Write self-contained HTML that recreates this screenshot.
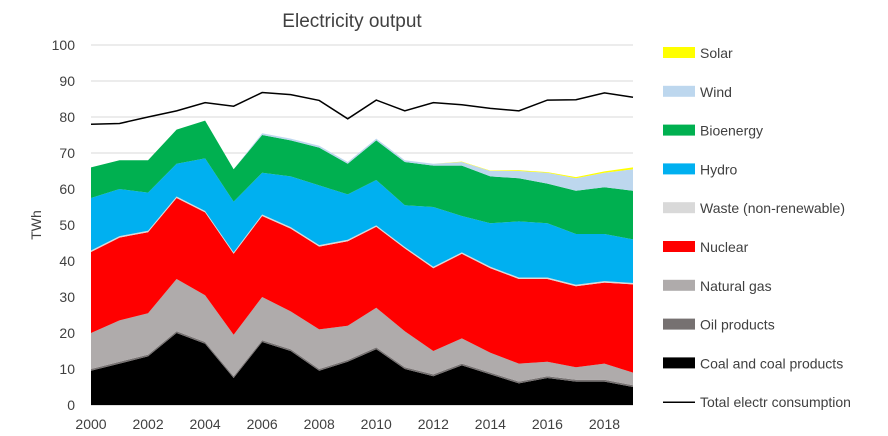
<!DOCTYPE html>
<html><head><meta charset="utf-8"><style>
body{margin:0;background:#fff;}
svg{display:block;font-family:"Liberation Sans",sans-serif;}
</style></head><body>
<svg id="chart" width="888" height="436"></svg>
<script>
const years=[2000,2001,2002,2003,2004,2005,2006,2007,2008,2009,2010,2011,2012,2013,2014,2015,2016,2017,2018,2019];
const coal=[9.5,11.5,13.5,20,17,7.5,17.5,15,9.5,12,15.5,10,8,11,8.5,6,7.5,6.5,6.5,5];
const oil=[0.5,0.5,0.5,0.5,0.5,0.5,0.5,0.5,0.5,0.5,0.5,0.5,0.5,0.5,0.5,0.5,0.5,0.5,0.5,0.5];
const gas=[10,11.5,11.5,14.5,13,11.5,12,10.5,11,9.5,11,10,6.5,7,5.5,5,4,3.5,4.5,3.5];
const nuclear=[22.5,23,22.5,22.5,23,22.5,22.5,23,23,23.5,22.5,23,23,23.5,23.5,23.5,23,22.5,22.5,24.5];
const waste=[0.4,0.4,0.4,0.4,0.4,0.4,0.4,0.4,0.4,0.4,0.4,0.4,0.4,0.4,0.4,0.4,0.4,0.4,0.4,0.4];
const hydro=[14.6,13.1,10.6,9.1,14.6,14.1,11.6,14.1,16.6,12.6,12.6,11.6,16.6,10.1,12.1,15.6,15.1,14.1,13.1,12.1];
const bio=[8.5,8,9,9.5,10.5,9,10.5,10,10.5,8.5,11,12,11.5,14,13,12,11,12,13,13.5];
const wind=[0,0,0,0,0,0,0.5,0.5,0.5,0.5,0.5,0.5,0.5,1,1.5,2,3,3.5,4,6];
const solar=[0,0,0,0,0,0,0,0,0,0,0,0,0,0.1,0.1,0.2,0.2,0.3,0.4,0.5];
const consumption=[78,78.2,80,81.7,84,83,86.8,86.2,84.6,79.5,84.7,81.7,84,83.4,82.4,81.7,84.7,84.8,86.7,85.5];
const yTicks=[0,10,20,30,40,50,60,70,80,90,100];
const xTicks=[2000,2002,2004,2006,2008,2010,2012,2014,2016,2018];
const seriesNames=["Coal and coal products","Oil products","Natural gas","Nuclear","Waste (non-renewable)","Hydro","Bioenergy","Wind","Solar"];
const seriesColors=["#000000","#767171","#afabab","#ff0000","#d9d9d9","#00b0f0","#00b050","#bdd7ee","#ffff00"];
const seriesData=[coal,oil,gas,nuclear,waste,hydro,bio,wind,solar];

const NS="http://www.w3.org/2000/svg";
const svg=document.getElementById('chart');
const X0=91,X1=633,Y0=405,Y1=45;
const xs=y=>X0+(y-2000)*(X1-X0)/19;
const ys=v=>Y0-v*(Y0-Y1)/100;
function mk(t,a,p){const e=document.createElementNS(NS,t);for(const k in a)e.setAttribute(k,a[k]);(p||svg).appendChild(e);return e;}

const title=mk('text',{x:352,y:27,'text-anchor':'middle','font-size':19,fill:'#404040'});
title.textContent='Electricity output';



yTicks.forEach(v=>{
  const l=mk('line',{x1:X0,x2:X1,y1:ys(v),y2:ys(v),stroke:v===0?'#bfbfbf':'#d9d9d9','stroke-width':1});
  
  
  const t=mk('text',{x:75,y:ys(v)+5,'text-anchor':'end','font-size':14,fill:'#404040'});
  t.textContent=v;
  
  
});
const yt=mk('text',{x:0,y:0,transform:'translate(41,225) rotate(-90)','text-anchor':'middle','font-size':14,fill:'#404040'});
yt.textContent='TWh';



let base=years.map(()=>0);
seriesData.forEach((d,i)=>{
  const top=base.map((b,j)=>b+d[j]);
  let pts=years.map((y,j)=>xs(y)+','+ys(top[j]));
  for(let j=years.length-1;j>=0;j--)pts.push(xs(years[j])+','+ys(base[j]));
  const p=mk('polygon',{points:pts.join(' '),fill:seriesColors[i]});
  
  
  base=top;
});

const line=mk('polyline',{points:years.map((y,j)=>xs(y)+','+ys(consumption[j])).join(' '),fill:'none',stroke:'#000','stroke-width':1.5});



xTicks.forEach(y=>{
  const t=mk('text',{x:xs(y),y:429,'text-anchor':'middle','font-size':14,fill:'#404040'});
  t.textContent=y;
  
  
});

const leg=[...seriesNames.map((n,i)=>({n,c:seriesColors[i]})).reverse(),{n:'Total electr consumption',c:null}];
leg.forEach((e,i)=>{
  const cy=53+i*38.8;
  const g=mk('g',{});
  
  
  if(e.c) mk('rect',{x:663,y:cy-6,width:32,height:11,fill:e.c},g);
  else mk('line',{x1:663,x2:695,y1:cy,y2:cy,stroke:'#000','stroke-width':1.5},g);
  const t=mk('text',{x:700,y:cy+5,'font-size':14,fill:'#404040'},g);
  t.textContent=e.n;
});
</script>
</body></html>
